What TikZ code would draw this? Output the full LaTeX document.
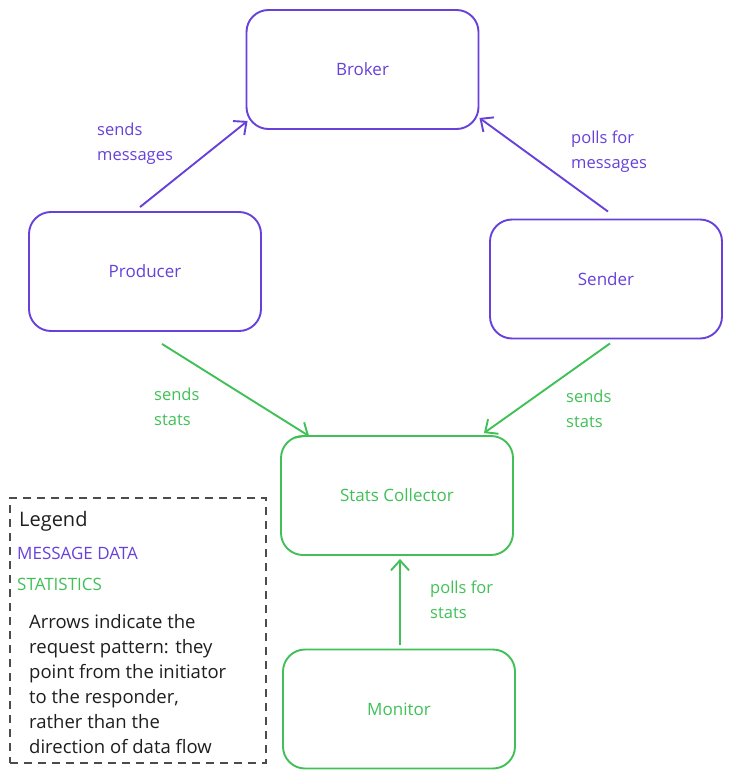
\documentclass[tikz,border=0pt]{standalone}
\usepackage{fontspec}
\setmainfont{Open Sans}
\usetikzlibrary{arrows.meta}
\definecolor{msgcol}{HTML}{6741D9}
\definecolor{statcol}{HTML}{40C057}
\definecolor{inkcol}{HTML}{1E1E1E}
\tikzset{
  box/.style={draw, rounded corners=22pt, line width=1.9pt, minimum width=232pt, minimum height=119pt, font=\fontsize{17}{20}\selectfont},
  msgbox/.style={box, draw=msgcol, text=msgcol},
  statbox/.style={box, draw=statcol, text=statcol},
  flow/.style={line width=1.9pt, -{Straight Barb[length=10pt,width=18pt,line width=1.9pt]}},
  lbl/.style={anchor=west, align=left, inner sep=0pt, font=\fontsize{16.5}{25}\selectfont},
}
\begin{document}
\begin{tikzpicture}[x=1pt,y=-1pt]
\useasboundingbox (0,0) rectangle (732,779);
\node[msgbox] (broker) at (362.5,69.5) {Broker};
\node[msgbox] (producer) at (145,271.5) {Producer};
\node[msgbox] (sender) at (606,279) {Sender};
\node[statbox] (stats) at (397,495.5) {Stats Collector};
\node[statbox] (monitor) at (399,709) {Monitor};
\draw[flow, msgcol] ([shift={(-5,-4)}]producer.north) -- ([shift={(2,-9)}]broker.south west);
\draw[flow, msgcol] ([shift={(2,-7)}]sender.north) -- ([shift={(0,-12)}]broker.south east);
\draw[flow, statcol] ([shift={(17,12)}]producer.south) -- ([shift={(29,1)}]stats.north west);
\draw[flow, statcol] ([shift={(4,4)}]sender.south) -- ([shift={(-30,-2)}]stats.north east);
\draw[flow, statcol] ([shift={(1,-4)}]monitor.north) -- ([shift={(3,3)}]stats.south);
\node[lbl, text=msgcol] (lsend) at (97,144) {sends\\messages};
\node[lbl, text=msgcol] (lpoll) at (571,152) {polls for\\messages};
\node[lbl, text=statcol] (lpstat) at (154,407) {sends\\stats};
\node[lbl, text=statcol] (lsstat) at (566,408.5) {sends\\stats};
\node[lbl, text=statcol] (lmon) at (430,599.5) {polls for\\stats};
\node[draw=black!70, dash pattern=on 8pt off 6pt, line width=1.4pt, minimum width=256pt, minimum height=265pt] (legend) at (138,630.5) {};
\node[anchor=west, inner sep=0pt, text=inkcol, font=\fontsize{20}{24}\selectfont] (ltitle) at (19,521) {Legend};
\node[anchor=west, inner sep=0pt, text=msgcol, font=\fontsize{17}{20}\selectfont] (lmsg) at (17,553) {MESSAGE DATA};
\node[anchor=west, inner sep=0pt, text=statcol, font=\fontsize{17}{20}\selectfont] (lstat) at (17,584) {STATISTICS};
\node[lbl, text=inkcol, font=\fontsize{18.5}{25}\selectfont] (lnote) at (29,684) {Arrows indicate the\\request pattern: they\\point from the initiator\\to the responder,\\rather than the\\direction of data flow};
\end{tikzpicture}
\end{document}
